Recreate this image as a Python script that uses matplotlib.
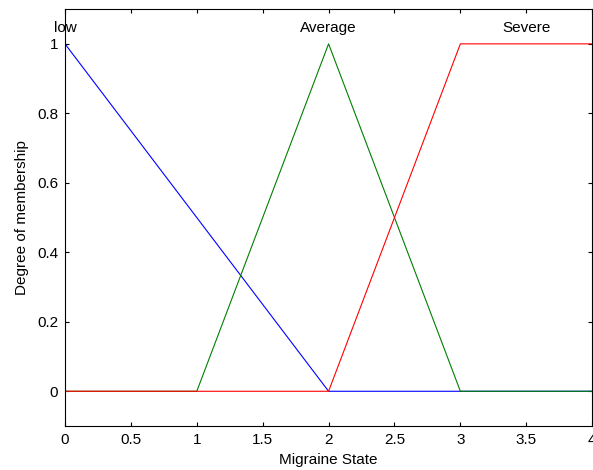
import numpy as np
import matplotlib
matplotlib.use("Agg")
import matplotlib.pyplot as plt

plt.rcParams['font.family'] = ['Liberation Sans', 'DejaVu Sans']

# Membership function breakpoints (x, degree) for each fuzzy set
mf_names = ["low", "Average", "Severe"]
low_x = [0, 2, 4]
low_y = [1, 0, 0]
avg_x = [0, 1, 2, 3, 4]
avg_y = [0, 0, 1, 0, 0]
sev_x = [0, 2, 3, 4]
sev_y = [0, 0, 1, 1]
label_x = [0, 2, 3.5]
colors = ["#0000ff", "#008000", "#ff0000"]

xs = np.linspace(0, 4, 181)

fig = plt.figure(figsize=(5.93, 4.70), dpi=100)
ax = fig.add_axes([0.1096, 0.0936, 0.889, 0.887])

for bx, by, c in zip([low_x, avg_x, sev_x], [low_y, avg_y, sev_y], colors):
    ax.plot(xs, np.interp(xs, bx, by), color=c, lw=0.8)

for name, lx in zip(mf_names, label_x):
    ax.text(lx, 1.045, name, ha="center", va="center", fontsize=11)

ax.set_xlim(0, 4)
ax.set_ylim(-0.1, 1.1)
ax.set_xticks(np.arange(0, 4.01, 0.5))
ax.set_xticklabels(["0", "0.5", "1", "1.5", "2", "2.5", "3", "3.5", "4"])
ax.set_yticks([0, 0.2, 0.4, 0.6, 0.8, 1])
ax.set_yticklabels(["0", "0.2", "0.4", "0.6", "0.8", "1"])
ax.tick_params(direction="in", top=True, right=True, length=3, width=0.8,
               labelsize=11, pad=5)
for s in ax.spines.values():
    s.set_linewidth(0.8)
ax.set_xlabel("Migraine State", fontsize=11, labelpad=4)
ax.set_ylabel("Degree of membership", fontsize=11, labelpad=6)

fig.savefig("out.png", dpi=100)
